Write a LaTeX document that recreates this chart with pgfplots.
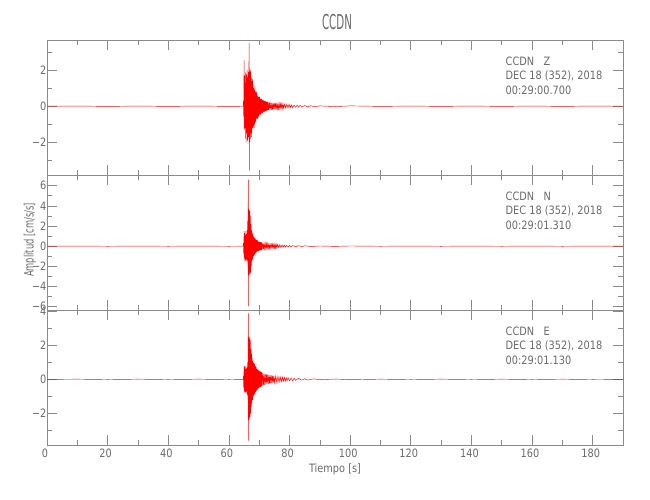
\documentclass[border=0pt]{standalone}
\usepackage{fontspec}
\setmainfont{DejaVu Sans}[FakeStretch=0.85]
\newfontfamily\titlefont{DejaVu Sans}[FakeStretch=0.5]
\newfontfamily\labelfont{DejaVu Sans}[FakeStretch=0.64]
\usepackage{pgfplots}
\pgfplotsset{compat=1.18}
\definecolor{axgray}{HTML}{8A8A8A}
\definecolor{txtgray}{HTML}{6A6A6A}
\pgfplotsset{
  seis/.style={
    scale only axis, width=576pt, height=135pt, anchor=south west,
    xmin=0, xmax=190, xtick={0,20,...,180}, minor xtick={10,30,...,170},
    major tick length=10pt, minor tick length=5pt, tick align=inside,
    axis line style={axgray, line width=0.6pt},
    tick style={axgray, line width=0.6pt},
    ticklabel style={font=\fontsize{11.5}{13}\selectfont, text=txtgray},
    yticklabel style={xshift=3pt},
    xticklabel style={xshift=-2pt},
    /pgf/number format/assume math mode=true,
    clip=true,
  },
  nox/.style={xticklabels={}},
  trace/.style={red, line width=0.45pt},
}
\begin{document}
\begin{tikzpicture}
\path[use as bounding box] (0,0) rectangle (650pt,500pt);

% ---------------- Z ----------------
\begin{axis}[seis, nox, at={(47pt,325pt)}, ymin=-3.82, ymax=3.68,
  ytick={-2,0,2}, yticklabels={−2,0,2}, minor ytick={-3,-1,1,3}]
\addplot[trace] coordinates {
(0,0)(10,0.01)(20,-0.01)(30,0.01)(40,-0.01)(50,0.01)(60,-0.01)(64.7,0)
(64.8,0.3)(64.9,-0.6)(65.0,2.55)(65.1,-1.3)(65.2,1.7)(65.3,-1.2)(65.4,1.9)(65.5,-1.8)
(65.6,1.3)(65.7,-2.0)(65.8,1.8)(65.9,-1.5)(66.0,2.0)(66.1,-1.9)(66.2,1.6)(66.3,-2.1)
(66.4,1.9)(66.5,-1.7)(66.6,2.2)(66.7,3.5)(66.75,-3.58)(66.8,2.1)(66.9,-2.0)(67.0,1.9)
(67.1,-1.8)(67.2,2.0)(67.3,-1.5)(67.4,1.6)(67.5,-1.7)(67.6,1.4)(67.7,-1.3)(67.8,1.5)
(67.9,-1.2)(68.0,1.2)(68.1,-1.1)(68.2,1.0)(68.3,-1.2)(68.4,0.9)(68.5,-1.0)(68.6,1.1)
(68.7,-0.9)(68.8,0.8)(68.9,-0.85)(69.0,0.75)(69.1,-0.7)(69.2,0.8)(69.3,-0.65)(69.4,0.6)
(69.5,-0.7)(69.6,0.55)(69.7,-0.6)(69.8,0.5)(69.9,-0.55)(70.0,0.5)(70.1,-0.45)(70.2,0.55)
(70.3,-0.5)(70.4,0.4)(70.5,-0.45)(70.6,0.42)(70.7,-0.38)(70.8,0.4)(70.9,-0.35)(71.0,0.36)
(71.1,-0.4)(71.2,0.33)(71.3,-0.32)(71.4,0.35)(71.5,-0.3)(71.6,0.28)(71.7,-0.32)(71.8,0.3)
(71.9,-0.27)(72.0,0.29)(72.1,-0.26)(72.2,0.25)(72.3,-0.28)(72.4,0.24)(72.5,-0.23)(72.6,0.26)
(72.7,-0.22)(72.8,0.23)(72.9,-0.25)(73.0,0.22)(73.2,-0.2)(73.4,0.22)(73.6,-0.19)(73.8,0.2)
(74.0,-0.21)(74.2,0.18)(74.4,-0.2)(74.6,0.17)(74.8,-0.18)(75.0,0.19)(75.2,-0.16)(75.4,0.17)
(75.6,-0.2)(75.8,0.18)(76.0,-0.15)(76.2,0.14)(76.4,-0.16)(76.6,0.15)(76.8,-0.13)(77.0,0.14)
(77.2,-0.12)(77.4,0.13)(77.6,-0.14)(77.8,0.12)(78.0,-0.11)(78.3,0.12)(78.6,-0.1)(78.9,0.11)
(79.2,-0.09)(79.5,0.1)(79.8,-0.08)(80.1,0.09)(80.4,-0.08)(80.7,0.07)(81.0,-0.08)(81.5,0.07)
(82.0,-0.06)(82.5,0.06)(83.0,-0.05)(83.5,0.05)(84.0,-0.05)(85,0.04)(86,-0.04)(87,0.03)
(88,-0.03)(90,0.02)(95,-0.02)(100,0.02)(110,-0.01)(120,0.01)(130,-0.01)(140,0.01)
(150,-0.01)(160,0.01)(170,-0.01)(180,0.01)(190,0)
};
\end{axis}

% ---------------- N ----------------
\begin{axis}[seis, nox, at={(47pt,190pt)}, ymin=-6.33, ymax=7.06,
  ytick={-6,-4,-2,0,2,4,6}, yticklabels={−6,−4,−2,0,2,4,6}, minor ytick={-5,-3,-1,1,3,5}]
\addplot[trace] coordinates {
(0,0)(10,0.01)(20,-0.01)(30,0.01)(40,-0.01)(50,0.01)(60,-0.01)(64.7,0)
(64.8,0.3)(64.9,-0.8)(65.0,1.5)(65.1,-1.2)(65.2,1.3)(65.3,-1.5)(65.4,1.1)(65.5,-1.4)
(65.6,1.5)(65.7,-1.3)(65.8,1.2)(65.9,-1.5)(66.0,1.6)(66.1,-1.4)(66.2,2.5)(66.3,-2.2)
(66.4,6.6)(66.45,-5.94)(66.5,3.7)(66.6,-2.9)(66.7,3.5)(66.8,-2.8)(66.9,3.6)(67.0,-2.6)
(67.1,3.0)(67.2,-2.7)(67.3,2.2)(67.4,-2.0)(67.5,1.6)(67.6,-1.5)(67.7,1.4)(67.8,-1.3)
(67.9,1.2)(68.0,-1.1)(68.1,1.0)(68.2,-0.95)(68.3,0.9)(68.4,-0.85)(68.5,0.8)(68.6,-0.8)
(68.7,0.75)(68.8,-0.7)(68.9,0.65)(69.0,-0.7)(69.1,0.6)(69.2,-0.55)(69.3,0.6)(69.4,-0.5)
(69.5,0.55)(69.6,-0.5)(69.7,0.45)(69.8,-0.5)(69.9,0.45)(70.0,-0.42)(70.1,0.4)(70.2,-0.45)
(70.3,0.4)(70.4,-0.38)(70.5,0.4)(70.6,-0.36)(70.7,0.38)(70.8,-0.4)(70.9,0.34)(71.0,-0.33)
(71.2,0.32)(71.4,-0.3)(71.6,0.3)(71.8,-0.28)(72.0,0.27)(72.2,-0.26)(72.4,0.27)(72.6,-0.24)
(72.8,0.25)(73.0,-0.23)(73.2,0.22)(73.4,-0.22)(73.6,0.21)(73.8,-0.2)(74.0,0.2)(74.2,-0.19)
(74.4,0.2)(74.6,-0.18)(74.8,0.19)(75.0,-0.2)(75.2,0.22)(75.4,-0.2)(75.6,0.21)(75.8,-0.16)
(76.0,0.15)(76.3,-0.14)(76.6,0.15)(76.9,-0.13)(77.2,0.12)(77.5,-0.12)(77.8,0.11)(78.1,-0.1)
(78.4,0.1)(78.7,-0.09)(79.0,0.09)(79.5,-0.08)(80.0,0.08)(80.5,-0.07)(81,0.06)(82,-0.05)
(83,0.05)(84,-0.04)(85,0.04)(87,-0.03)(90,0.02)(95,-0.02)(100,0.02)(110,-0.01)
(120,0.01)(130,-0.01)(140,0.01)(150,-0.01)(160,0.01)(170,-0.01)(180,0.01)(190,0)
};
\end{axis}

% ---------------- E ----------------
\begin{axis}[seis, at={(47pt,55pt)}, ymin=-3.86, ymax=4.08,
  ytick={-2,0,2,4}, yticklabels={−2,0,2,4}, minor ytick={-3,-1,1,3}]
\addplot[trace] coordinates {
(0,0)(10,0.01)(20,-0.01)(30,0.01)(40,-0.01)(50,0.01)(60,-0.01)(64.7,0)
(64.8,0.2)(64.9,-0.5)(65.0,0.8)(65.1,-0.7)(65.2,0.75)(65.3,-0.8)(65.4,0.6)(65.5,-0.75)
(65.6,0.8)(65.7,-0.7)(65.8,0.65)(65.9,-0.8)(66.0,0.7)(66.1,-0.9)(66.2,1.0)(66.3,-1.2)
(66.4,3.88)(66.45,-3.6)(66.5,2.5)(66.6,-2.4)(66.7,2.4)(66.8,-2.3)(66.9,2.5)(67.0,-2.2)
(67.1,2.3)(67.2,-2.0)(67.3,1.8)(67.4,-1.6)(67.5,1.5)(67.6,-1.4)(67.7,1.3)(67.8,-1.2)
(67.9,1.1)(68.0,-1.0)(68.1,1.0)(68.2,-0.95)(68.3,0.95)(68.4,-0.9)(68.5,0.9)(68.6,-0.85)
(68.7,0.8)(68.8,-0.75)(68.9,0.75)(69.0,-0.7)(69.1,0.7)(69.2,-0.65)(69.3,0.6)(69.4,-0.62)
(69.5,0.58)(69.6,-0.55)(69.7,0.55)(69.8,-0.52)(69.9,0.5)(70.0,-0.5)(70.1,0.48)(70.2,-0.46)
(70.3,0.47)(70.4,-0.44)(70.5,0.45)(70.6,-0.42)(70.7,0.43)(70.8,-0.4)(70.9,0.4)(71.0,-0.38)
(71.2,0.37)(71.4,-0.35)(71.6,0.34)(71.8,-0.33)(72.0,0.32)(72.2,-0.3)(72.4,0.3)(72.6,-0.28)
(72.8,0.28)(73.0,-0.26)(73.2,0.26)(73.4,-0.25)(73.6,0.25)(73.8,-0.24)(74.0,0.23)(74.2,-0.22)
(74.4,0.22)(74.6,-0.21)(74.8,0.2)(75.0,-0.2)(75.3,0.19)(75.6,-0.18)(75.9,0.17)(76.2,-0.16)
(76.5,0.16)(76.8,-0.15)(77.1,0.14)(77.4,-0.14)(77.7,0.13)(78.0,-0.12)(78.3,0.12)(78.6,-0.11)
(78.9,0.11)(79.2,-0.1)(79.5,0.1)(80,-0.09)(80.5,0.08)(81,-0.08)(81.5,0.07)(82,-0.06)
(83,0.06)(84,-0.05)(85,0.04)(86,-0.04)(88,0.03)(90,-0.02)(95,0.02)(100,-0.02)
(110,0.01)(120,-0.01)(130,0.01)(140,-0.01)(150,0.01)(160,-0.01)(170,0.01)(180,-0.01)(190,0)
};
\end{axis}

% ---------------- texts ----------------
\node[text=txtgray] at (337pt,478pt) {\titlefont\fontsize{20.5}{24}\selectfont CCDN};
\node[text=txtgray, rotate=90] at (30pt,260pt) {\labelfont\fontsize{13}{15}\selectfont Amplitud [cm/s/s]};
\node[text=txtgray] at (335pt,31pt) {\fontsize{11.5}{13}\selectfont Tiempo [s]};

\begin{scope}[every node/.style={text=txtgray, anchor=base west, inner sep=0pt, font=\fontsize{11.5}{13}\selectfont}]
\node at (505.5pt,434.5pt) {CCDN\ \ \ Z};
\node at (505.5pt,420pt) {DEC 18 (352), 2018};
\node at (505.5pt,405.5pt) {00:29:00.700};
\node at (505.5pt,299.5pt) {CCDN\ \ \ N};
\node at (505.5pt,285pt) {DEC 18 (352), 2018};
\node at (505.5pt,270.5pt) {00:29:01.310};
\node at (505.5pt,164.5pt) {CCDN\ \ \ E};
\node at (505.5pt,150pt) {DEC 18 (352), 2018};
\node at (505.5pt,135.5pt) {00:29:01.130};
\end{scope}
\end{tikzpicture}
\end{document}
